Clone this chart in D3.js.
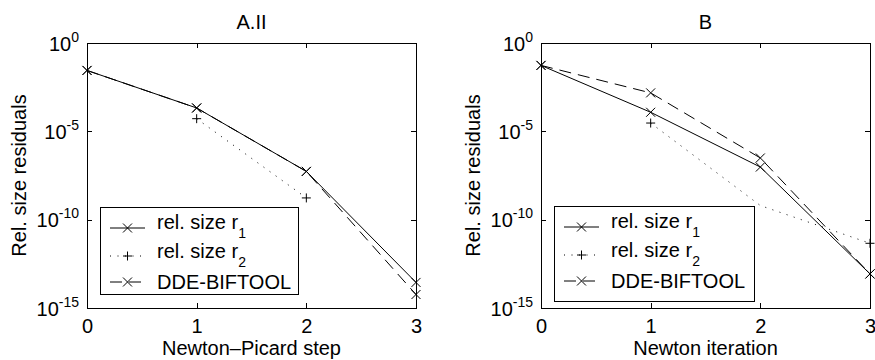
<!DOCTYPE html>
<html>
<head>
<meta charset="utf-8">
<script src="https://cdn.jsdelivr.net/npm/d3@7"></script>
<style>
  body { margin: 0; background: #fff; }
  svg { display: block; }
</style>
</head>
<body>
<div id="chart"></div>
<script>
// iteration numbers on the x axis
const steps = [0, 1, 2, 3];
const xTicks = [0, 1, 2, 3];
const yTicks = [1e0, 1e-5, 1e-10, 1e-15];
const yTickExp = ["0", "-5", "-10", "-15"];

// Panel A.II (Newton-Picard)
const aR1 = [2.8e-2, 2.1e-4, 5.4e-8, 2.8e-14];
const aR2Steps = [1, 2];
const aR2 = [5.2e-5, 1.7e-9];
const aR2Marked = [true, true];
const aDde = [2.8e-2, 2.1e-4, 5.4e-8, 5.8e-15];

// Panel B (Newton)
const bR1 = [5.4e-2, 1.2e-4, 9.5e-8, 8.5e-14];
const bR2Steps = [1, 2, 3];
const bR2 = [2.95e-5, 6.3e-10, 4.6e-12];
const bR2Marked = [true, false, true];
const bDde = [5.4e-2, 1.5e-3, 3.1e-7, 8.5e-14];

// legend entries
const legendText = ["rel. size r", "rel. size r", "DDE-BIFTOOL"];
const legendSub = ["1", "2", ""];

const width = 875;
const height = 360;
const plotTop = 43, plotBottom = 308;
const font = "'Liberation Sans', Arial, Helvetica, sans-serif";

const styles = {
  solid: null,
  dotted: "1,6.5",
  dashed: "12,7"
};

const svg = d3.select("#chart").append("svg")
  .attr("width", width)
  .attr("height", height)
  .style("font-family", font);

const panels = [
  {
    left: 87, right: 416, title: "A.II", xLabel: "Newton\u2013Picard step",
    series: [
      { xs: steps, ys: aR1, style: "solid", marker: "x" },
      { xs: aR2Steps, ys: aR2, style: "dotted", marker: "+", marked: aR2Marked },
      { xs: steps, ys: aDde, style: "dashed", marker: "x" }
    ],
    legend: { x: 100, y: 207, w: 198, h: 87 }
  },
  {
    left: 541, right: 870, title: "B", xLabel: "Newton iteration",
    series: [
      { xs: steps, ys: bR1, style: "solid", marker: "x" },
      { xs: bR2Steps, ys: bR2, style: "dotted", marker: "+", marked: bR2Marked },
      { xs: steps, ys: bDde, style: "dashed", marker: "x" }
    ],
    legend: { x: 554, y: 206, w: 200, h: 95 }
  }
];

function markerPath(type) {
  const s = 4.5;
  if (type === "x") return `M${-s},${-s}L${s},${s}M${-s},${s}L${s},${-s}`;
  return `M${-s},0H${s}M0,${-s}V${s}`;
}

function drawPanel(p) {
  const x = d3.scaleLinear().domain([0, 3]).range([p.left, p.right]);
  const y = d3.scaleLog().domain([1e-15, 1]).range([plotBottom, plotTop]);

  const styleAxis = g => {
    g.attr("font-size", 20).attr("font-family", font);
    g.selectAll("line, path").attr("stroke", "#000").attr("shape-rendering", "crispEdges");
    g.selectAll("text").attr("fill", "#000");
  };

  // bottom axis with labels
  svg.append("g")
    .attr("transform", `translate(0,${plotBottom})`)
    .call(d3.axisBottom(x).tickValues(xTicks).tickSizeInner(-5).tickSizeOuter(0).tickPadding(11).tickFormat(d3.format("d")))
    .call(styleAxis);

  // top axis, ticks only
  svg.append("g")
    .attr("transform", `translate(0,${plotTop})`)
    .call(d3.axisTop(x).tickValues(xTicks).tickSizeInner(-5).tickSizeOuter(0).tickFormat(() => ""))
    .call(styleAxis);

  // left axis with 10^n labels
  const yAxis = svg.append("g")
    .attr("transform", `translate(${p.left},0)`)
    .call(d3.axisLeft(y).tickValues(yTicks).tickSizeInner(-5).tickSizeOuter(0).tickPadding(8).tickFormat(() => ""))
    .call(styleAxis);

  yAxis.selectAll(".tick text").each(function (d, i) {
    const t = d3.select(this).attr("dy", "7px");
    t.append("tspan").text("10");
    t.append("tspan").attr("dy", -9).attr("font-size", 14).text(yTickExp[i]);
  });

  // right axis, ticks only
  svg.append("g")
    .attr("transform", `translate(${p.right},0)`)
    .call(d3.axisRight(y).tickValues(yTicks).tickSizeInner(-5).tickSizeOuter(0).tickFormat(() => ""))
    .call(styleAxis);

  // title and axis labels
  svg.append("text")
    .attr("x", (p.left + p.right) / 2)
    .attr("y", 29)
    .attr("text-anchor", "middle")
    .attr("font-size", 20)
    .text(p.title);

  svg.append("text")
    .attr("x", (p.left + p.right) / 2)
    .attr("y", 355)
    .attr("text-anchor", "middle")
    .attr("font-size", 20)
    .text(p.xLabel);

  svg.append("text")
    .attr("transform", `translate(${p.left - 61.5},${(plotTop + plotBottom) / 2}) rotate(-90)`)
    .attr("text-anchor", "middle")
    .attr("font-size", 20)
    .text("Rel. size residuals");

  // data lines and markers
  const line = d3.line().x(d => x(d[0])).y(d => y(d[1]));

  p.series.forEach(s => {
    const pts = s.xs.map((v, i) => [v, s.ys[i]]);
    svg.append("path")
      .datum(pts)
      .attr("d", line)
      .attr("fill", "none")
      .attr("stroke", "#000")
      .attr("stroke-width", 1)
      .attr("stroke-dasharray", styles[s.style]);

    svg.append("g")
      .selectAll("path")
      .data(pts.filter((d, i) => !s.marked || s.marked[i]))
      .enter()
      .append("path")
      .attr("transform", d => `translate(${x(d[0])},${y(d[1])})`)
      .attr("d", markerPath(s.marker))
      .attr("fill", "none")
      .attr("stroke", "#000")
      .attr("stroke-width", 1);
  });

  // legend
  const L = p.legend;
  const lg = svg.append("g").attr("transform", `translate(${L.x},${L.y})`);
  lg.append("rect")
    .attr("x", 0.5).attr("y", 0.5)
    .attr("width", L.w).attr("height", L.h)
    .attr("fill", "#fff")
    .attr("stroke", "#000")
    .attr("shape-rendering", "crispEdges");

  const sampleY = [21, 49, 75];
  const textY = [21.5, 51, 82];

  p.series.forEach((s, i) => {
    lg.append("path")
      .attr("d", `M10,${sampleY[i]}H45`)
      .attr("fill", "none")
      .attr("stroke", "#000")
      .attr("stroke-dasharray", styles[s.style]);
    lg.append("path")
      .attr("transform", `translate(27.5,${sampleY[i]})`)
      .attr("d", markerPath(s.marker))
      .attr("fill", "none")
      .attr("stroke", "#000");

    const t = lg.append("text")
      .attr("x", 57)
      .attr("y", textY[i])
      .attr("font-size", 20);
    t.append("tspan").text(legendText[i]);
    if (legendSub[i]) {
      t.append("tspan").attr("dy", 9).attr("font-size", 14).text(legendSub[i]);
    }
  });
}

panels.forEach(drawPanel);
</script>
</body>
</html>
